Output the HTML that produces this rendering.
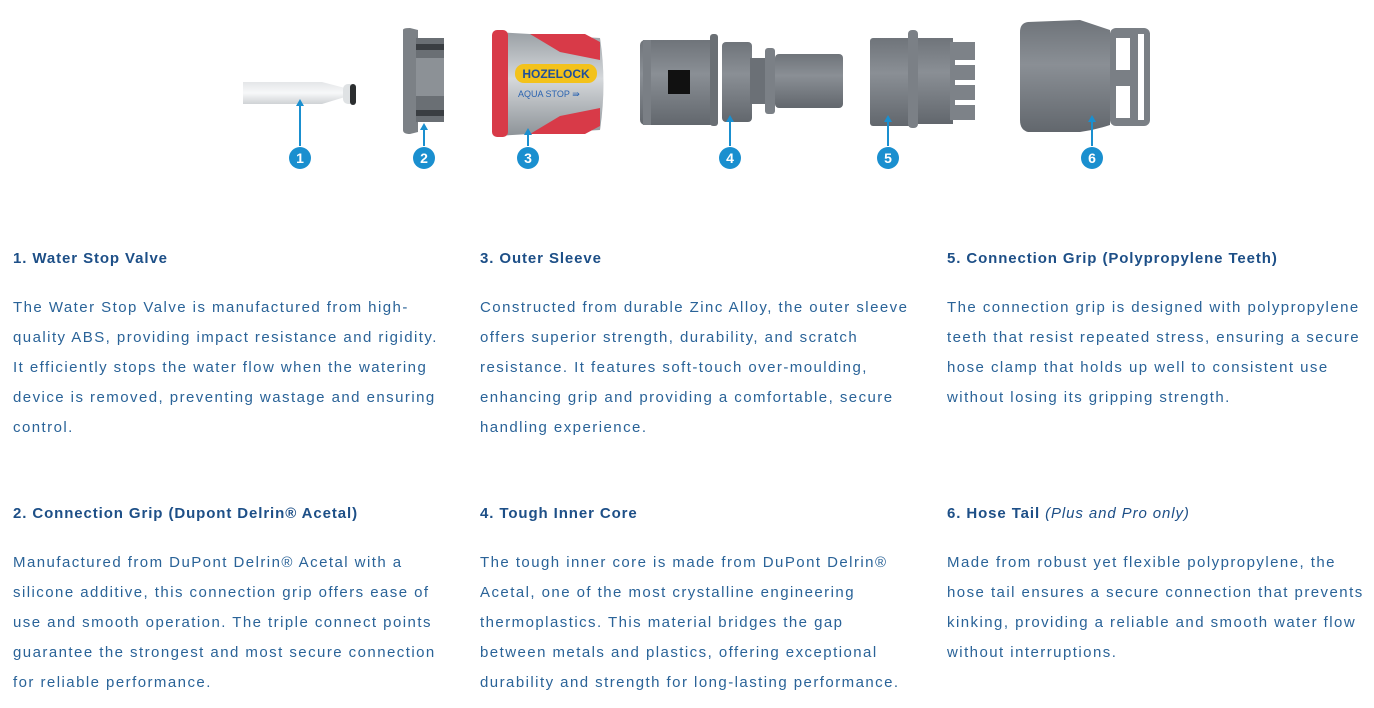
<!DOCTYPE html>
<html><head><meta charset="utf-8"><style>
body{margin:0;width:1374px;height:708px;background:#fff;position:relative;overflow:hidden;font-family:"Liberation Sans",sans-serif}
h3{margin:0;position:absolute;font-size:15px;font-weight:bold;color:#1d4f87;letter-spacing:0.9px;white-space:nowrap;line-height:20px}
h3 i{font-weight:normal}
p{margin:0;position:absolute;font-size:15px;color:#2a6398;letter-spacing:1.45px;line-height:30px;white-space:nowrap}
</style></head><body>
<svg width="1374" height="200" style="position:absolute;left:0;top:0">
<defs>
<linearGradient id="g1" x1="0" y1="0" x2="0" y2="1"><stop offset="0" stop-color="#e4e6e8"/><stop offset=".5" stop-color="#f7f8f9"/><stop offset="1" stop-color="#cfd2d5"/></linearGradient>
<linearGradient id="gs" x1="0" y1="0" x2="0" y2="1"><stop offset="0" stop-color="#9aa0a5"/><stop offset=".45" stop-color="#d5d8db"/><stop offset="1" stop-color="#8d9398"/></linearGradient>
<linearGradient id="gg" x1="0" y1="0" x2="0" y2="1"><stop offset="0" stop-color="#6f747a"/><stop offset=".4" stop-color="#8a8f95"/><stop offset="1" stop-color="#62676d"/></linearGradient>
</defs>
<path d="M243 82 L322 82 L345 88 L345 97 L322 104 L243 104 Z" fill="url(#g1)"/>
<rect x="343" y="84" width="12" height="20" rx="5" fill="#dfe2e4"/>
<rect x="350" y="84" width="6" height="21" rx="3" fill="#2b2e30"/>
<path d="M403 30 Q403 28 410 28 L418 30 L418 132 L410 134 Q403 134 403 130 Z" fill="#7c8186"/>
<rect x="416" y="38" width="28" height="24" fill="#6a6f74"/>
<rect x="416" y="58" width="28" height="40" fill="#8c9196"/>
<rect x="416" y="96" width="28" height="26" fill="#6a6f74"/>
<rect x="416" y="44" width="28" height="6" fill="#3a3e42"/>
<rect x="416" y="110" width="28" height="6" fill="#3a3e42"/>
<path d="M495 32 L600 38 Q607 83 600 130 L495 136 Z" fill="url(#gs)"/>
<rect x="492" y="30" width="16" height="107" rx="5" fill="#d83a48"/>
<path d="M530 34 L585 34 L600 42 L600 60 L560 52 Z" fill="#d83a48"/>
<path d="M530 134 L585 134 L600 126 L600 108 L560 116 Z" fill="#d83a48"/>
<rect x="515" y="64" width="82" height="19" rx="9" fill="#f3c21b"/>
<text x="556" y="78" text-anchor="middle" font-family="Liberation Sans" font-weight="bold" font-size="12" fill="#1f4f9a">HOZELOCK</text>
<text x="518" y="97" font-family="Liberation Sans" font-size="9" fill="#2a63b0">AQUA STOP ⇛</text>
<rect x="640" y="40" width="75" height="85" rx="5" fill="url(#gg)"/>
<rect x="643" y="40" width="8" height="85" fill="#7a7f85"/>
<rect x="668" y="70" width="22" height="24" fill="#111"/>
<rect x="710" y="34" width="8" height="92" rx="3" fill="#6a6f74"/>
<rect x="722" y="42" width="30" height="80" rx="4" fill="url(#gg)"/>
<rect x="750" y="58" width="20" height="46" fill="#6b7076"/>
<rect x="765" y="48" width="10" height="66" rx="3" fill="#7b8086"/>
<rect x="775" y="54" width="68" height="54" rx="4" fill="url(#gg)"/>
<rect x="870" y="38" width="45" height="88" rx="3" fill="url(#gg)"/>
<rect x="908" y="30" width="10" height="98" rx="4" fill="#7b8086"/>
<rect x="918" y="38" width="35" height="86" fill="url(#gg)"/>
<rect x="950" y="42" width="25" height="78" fill="#7d8288"/>
<rect x="955" y="60" width="20" height="5" fill="#fff"/>
<rect x="955" y="80" width="20" height="5" fill="#fff"/>
<rect x="955" y="100" width="20" height="5" fill="#fff"/>
<path d="M1028 22 L1080 20 Q1095 25 1110 30 L1110 125 Q1095 130 1080 132 L1028 132 Q1020 130 1020 120 L1020 32 Q1020 23 1028 22 Z" fill="url(#gg)"/>
<rect x="1110" y="28" width="40" height="98" rx="6" fill="#7a7f85"/>
<rect x="1116" y="38" width="14" height="32" fill="#fff"/>
<rect x="1116" y="86" width="14" height="32" fill="#fff"/>
<rect x="1138" y="34" width="6" height="86" fill="#fff"/>
<g stroke="#1a8fcf" stroke-width="2" fill="none">
<line x1="300" y1="146" x2="300" y2="104"/><line x1="424" y1="146" x2="424" y2="128"/><line x1="528" y1="146" x2="528" y2="133"/>
<line x1="730" y1="146" x2="730" y2="120"/><line x1="888" y1="146" x2="888" y2="120"/><line x1="1092" y1="146" x2="1092" y2="120"/>
</g>
<g fill="#1a8fcf">
<path d="M296 106 L300 99 L304 106Z"/><path d="M420 130 L424 123 L428 130Z"/><path d="M524 135 L528 128 L532 135Z"/>
<path d="M726 122 L730 115 L734 122Z"/><path d="M884 122 L888 115 L892 122Z"/><path d="M1088 122 L1092 115 L1096 122Z"/>
<circle cx="300" cy="158" r="11"/><circle cx="424" cy="158" r="11"/><circle cx="528" cy="158" r="11"/>
<circle cx="730" cy="158" r="11"/><circle cx="888" cy="158" r="11"/><circle cx="1092" cy="158" r="11"/>
</g>
<g fill="#fff" font-family="Liberation Sans" font-weight="bold" font-size="14" text-anchor="middle">
<text x="300" y="163">1</text><text x="424" y="163">2</text><text x="528" y="163">3</text>
<text x="730" y="163">4</text><text x="888" y="163">5</text><text x="1092" y="163">6</text>
</g>
</svg>

<h3 style="left:13px;top:249px">1. Water Stop Valve</h3>
<p style="left:13px;top:293px">The Water Stop Valve is manufactured from high-<br>quality ABS, providing impact resistance and rigidity.<br>It efficiently stops the water flow when the watering<br>device is removed, preventing wastage and ensuring<br>control.</p>

<h3 style="left:480px;top:249px">3. Outer Sleeve</h3>
<p style="left:480px;top:293px">Constructed from durable Zinc Alloy, the outer sleeve<br>offers superior strength, durability, and scratch<br>resistance. It features soft-touch over-moulding,<br>enhancing grip and providing a comfortable, secure<br>handling experience.</p>

<h3 style="left:947px;top:249px">5. Connection Grip (Polypropylene Teeth)</h3>
<p style="left:947px;top:293px">The connection grip is designed with polypropylene<br>teeth that resist repeated stress, ensuring a secure<br>hose clamp that holds up well to consistent use<br>without losing its gripping strength.</p>

<h3 style="left:13px;top:504px">2. Connection Grip (Dupont Delrin® Acetal)</h3>
<p style="left:13px;top:548px">Manufactured from DuPont Delrin® Acetal with a<br>silicone additive, this connection grip offers ease of<br>use and smooth operation. The triple connect points<br>guarantee the strongest and most secure connection<br>for reliable performance.</p>

<h3 style="left:480px;top:504px">4. Tough Inner Core</h3>
<p style="left:480px;top:548px">The tough inner core is made from DuPont Delrin®<br>Acetal, one of the most crystalline engineering<br>thermoplastics. This material bridges the gap<br>between metals and plastics, offering exceptional<br>durability and strength for long-lasting performance.</p>

<h3 style="left:947px;top:504px">6. Hose Tail <i>(Plus and Pro only)</i></h3>
<p style="left:947px;top:548px">Made from robust yet flexible polypropylene, the<br>hose tail ensures a secure connection that prevents<br>kinking, providing a reliable and smooth water flow<br>without interruptions.</p>
</body></html>
